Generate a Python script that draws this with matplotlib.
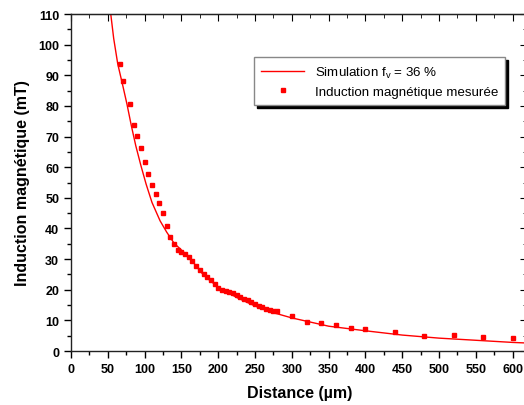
import numpy as np
import matplotlib
matplotlib.use("Agg")
import matplotlib.pyplot as plt
from matplotlib.ticker import MultipleLocator

plt.rcParams['font.family'] = ['Liberation Sans', 'DejaVu Sans']
plt.rcParams['mathtext.fontset'] = 'custom'
plt.rcParams['mathtext.rm'] = 'Liberation Sans'

# measured points (distance in um, induction in mT)
dist_meas = [66, 70, 80, 85, 90, 95, 100, 104, 110, 115, 120, 125, 130, 135, 140, 145,
             150, 155, 160, 165, 170, 175, 180, 185, 190, 195, 200, 205, 210, 215, 220,
             225, 230, 235, 240, 245, 250, 255, 260, 265, 270, 275, 280,
             300, 320, 340, 360, 380, 400, 440, 480, 520, 560, 600]
b_meas = [93.7, 88.2, 80.5, 73.9, 70.3, 66.4, 61.7, 57.8, 54.3, 51.1, 48.2, 45.1, 40.9,
          37.3, 34.8, 33.0, 32.4, 31.7, 30.8, 29.5, 27.9, 26.3, 25.1, 24.3, 23.2, 21.8,
          20.7, 20.0, 19.6, 19.3, 18.9, 18.3, 17.6, 17.0, 16.5, 15.9, 15.3, 14.8, 14.3,
          13.7, 13.3, 13.1, 12.9, 11.5, 9.6, 9.1, 8.6, 7.4, 7.3, 6.2, 5.0, 5.1, 4.6, 4.2]

# simulation curve (f_v = 36 %)
dist_sim = [54, 58, 63.5, 70, 76, 82, 88, 95, 102, 110, 121, 130, 140, 160, 180, 200,
            225, 250, 275, 300, 350, 400, 450, 500, 550, 600, 620]
b_sim = [110, 102, 93.7, 87, 80.6, 73.5, 67, 60.5, 54.5, 48.5, 42.5, 38.8, 35.2, 30.7, 24.8, 20.8,
         17.5, 14.7, 12.5, 10.8, 8.1, 6.6, 5.2, 4.2, 3.5, 2.8, 2.6]

fig = plt.figure(figsize=(5.24, 4.06), dpi=100)
ax = fig.add_axes([0.1355, 0.133, 0.871, 0.830])

ax.plot(dist_sim, b_sim, color='#ff0000', lw=1.0, label=r'Simulation f$_\mathregular{v}$ = 36 %')
ax.plot(dist_meas, b_meas, ls='none', marker='s', ms=3.4, color='#ff0000',
        label='Induction magnétique mesurée')

ax.set_xlim(0, 620)
ax.set_ylim(0, 110)
ax.xaxis.set_major_locator(MultipleLocator(50))
ax.xaxis.set_minor_locator(MultipleLocator(25))
ax.yaxis.set_major_locator(MultipleLocator(10))
ax.yaxis.set_minor_locator(MultipleLocator(5))
ax.tick_params(which='major', direction='out', length=5, width=1.0, labelsize=9)
ax.tick_params(which='minor', direction='out', length=3, width=1.0)
for lab in ax.get_xticklabels() + ax.get_yticklabels():
    lab.set_fontweight('bold')
for sp in ax.spines.values():
    sp.set_linewidth(1.0)
    sp.set_color('#222222')

# mirrored ticks on top and right, pointing inward
top = ax.secondary_xaxis('top')
top.xaxis.set_major_locator(MultipleLocator(50))
top.xaxis.set_minor_locator(MultipleLocator(25))
top.tick_params(which='major', direction='in', length=5, labeltop=False)
top.tick_params(which='minor', direction='in', length=3)
right = ax.secondary_yaxis('right')
right.yaxis.set_major_locator(MultipleLocator(10))
right.yaxis.set_minor_locator(MultipleLocator(5))
right.tick_params(which='major', direction='in', length=5, labelright=False)
right.tick_params(which='minor', direction='in', length=3)

ax.set_xlabel('Distance (µm)', fontsize=11.5, fontweight='bold', labelpad=7)
ax.set_ylabel('Induction magnétique (mT)', fontsize=11.5, fontweight='bold', labelpad=6)

leg = ax.legend(loc='upper left', bbox_to_anchor=(0.386, 0.892), fontsize=9.6,
                frameon=True, fancybox=False, shadow={'color': 'black', 'alpha': 1},
                handlelength=3.2, borderpad=0.55, labelspacing=0.45)
leg.get_frame().set_edgecolor('#888888')
leg.get_frame().set_linewidth(1.0)

fig.savefig('out.png', dpi=100)
